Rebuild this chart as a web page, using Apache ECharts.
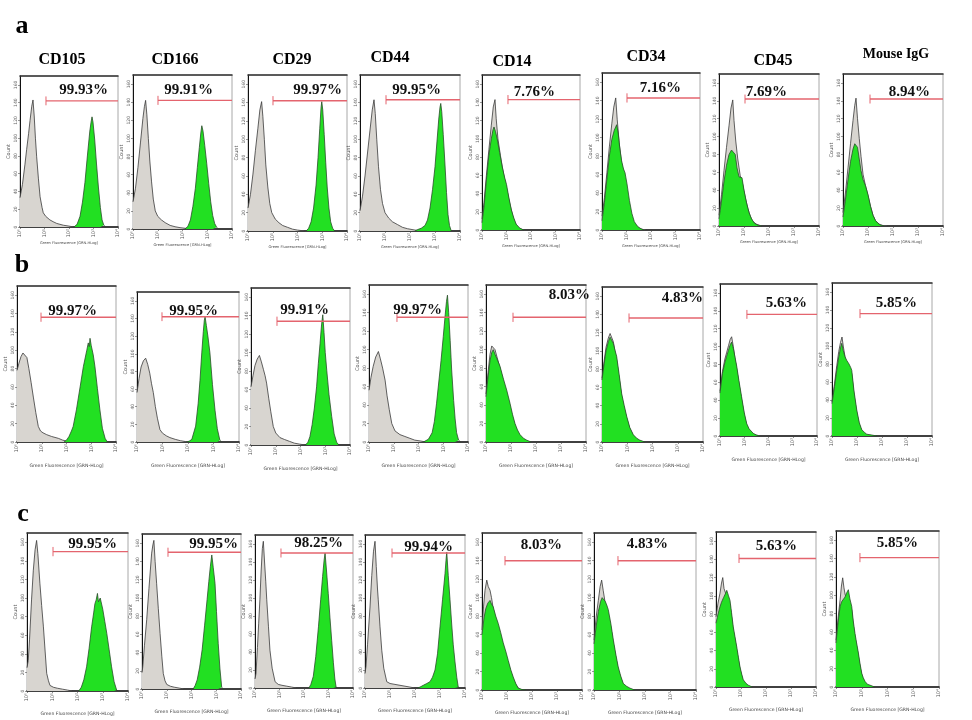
<!DOCTYPE html>
<html><head><meta charset="utf-8">
<script src="https://cdn.jsdelivr.net/npm/echarts@6/dist/echarts.min.js"></script>
<style>html,body{margin:0;padding:0;background:#fff}#c{width:972px;height:720px}</style>
</head><body><div id="c"></div><script>
// ---------- DATA ----------
const markers = ['CD105','CD166','CD29','CD44','CD14','CD34','CD45','Mouse IgG'];
const rowLetters = ['a','b','c'];
const xTickLabels = ['10⁰','10¹','10²','10³','10⁴'];
const xName = 'Green Fluorescence [GRN-HLog]';
const yName = 'Count';
const pctA = ['99.93%','99.91%','99.97%','99.95%','7.76%','7.16%','7.69%','8.94%'];
const pctB = ['99.97%','99.95%','99.91%','99.97%','8.03%','4.83%','5.63%','5.85%'];
const pctC = ['99.95%','99.95%','98.25%','99.94%','8.03%','4.83%','5.63%','5.85%'];
const gateStartA = [1.06,1.01,1.01,1.04,1.06,1.02,1.04,1.08];
const gateLevelA = [142,142,142,143,143,143,142,142];
const gateStartB = [0.97,0.98,1.05,1.13,1.08,1.07,1.11,1.12];
const gateLevelB = [136,142,134,135,135,136,136,136];
const gateStartC = [1.03,1.05,1.06,1.08,0.92,0.94,0.92,0.93];
const gateLevelC = [150,150,150,150,140,140,141,141];

// Row a
const ctrlA1 = [[0,33],[0.1,48],[0.2,70],[0.27,87],[0.35,105],[0.41,120],[0.48,136],[0.53,143],[0.58,125],[0.63,100],[0.68,79],[0.75,55],[0.82,34],[0.9,22],[0.95,16],[1.05,12],[1.22,8],[1.35,6],[1.5,4],[1.77,2],[2.0,1],[2.2,0]];
const stainA1 = [[2.2,0],[2.33,3],[2.45,12],[2.55,28],[2.65,50],[2.75,80],[2.85,108],[2.9,118],[2.94,124],[2.98,118],[3.05,98],[3.12,72],[3.2,45],[3.28,22],[3.35,8],[3.42,2],[3.5,0]];
const ctrlA2 = [[0,30],[0.1,45],[0.2,68],[0.3,95],[0.4,122],[0.46,135],[0.51,142],[0.56,126],[0.62,100],[0.68,75],[0.75,52],[0.82,33],[0.9,20],[1.0,14],[1.15,10],[1.3,7],[1.5,4],[1.7,2.5],[1.9,1.5],[2.2,0.5],[2.4,0]];
const stainA2 = [[2.1,0],[2.22,3],[2.32,10],[2.42,25],[2.52,45],[2.6,68],[2.68,90],[2.74,106],[2.78,114],[2.83,108],[2.9,92],[2.98,72],[3.06,50],[3.14,30],[3.22,15],[3.3,6],[3.38,2],[3.45,0]];
const ctrlA3 = [[0,25],[0.1,40],[0.2,62],[0.3,88],[0.4,112],[0.48,132],[0.55,141],[0.6,125],[0.66,100],[0.72,72],[0.8,48],[0.88,30],[0.96,20],[1.1,13],[1.25,9],[1.4,6],[1.6,4],[1.8,2],[2.0,1],[2.3,0]];
const stainA3 = [[2.35,0],[2.45,3],[2.55,10],[2.65,25],[2.75,50],[2.83,80],[2.9,112],[2.95,134],[2.98,141],[3.02,132],[3.08,105],[3.14,75],[3.2,48],[3.27,25],[3.34,10],[3.42,3],[3.5,0]];
const ctrlA4 = [[0,22],[0.1,38],[0.2,60],[0.3,85],[0.4,110],[0.49,132],[0.56,143],[0.61,128],[0.67,100],[0.74,70],[0.82,45],[0.9,30],[1.0,20],[1.15,14],[1.3,10],[1.5,7],[1.7,4],[1.9,2.5],[2.2,1],[2.5,0]];
const stainA4 = [[2.2,0],[2.3,1.5],[2.45,3],[2.6,6],[2.7,12],[2.8,25],[2.9,45],[3.0,70],[3.08,98],[3.15,122],[3.2,135],[3.23,139],[3.27,130],[3.33,105],[3.4,72],[3.46,42],[3.52,18],[3.58,6],[3.65,0]];
const ctrlA5 = [[0,12],[0.08,30],[0.18,60],[0.28,88],[0.38,115],[0.46,135],[0.53,143],[0.58,122],[0.65,100],[0.75,82],[0.85,66],[0.95,52],[1.05,40],[1.15,27],[1.25,16],[1.35,8],[1.5,2],[1.7,0]];
const stainA5 = [[0,8],[0.08,25],[0.18,55],[0.28,82],[0.38,100],[0.45,110],[0.49,113],[0.55,108],[0.62,100],[0.72,85],[0.82,70],[0.92,58],[1.0,50],[1.1,35],[1.2,22],[1.3,13],[1.4,6],[1.55,2],[1.7,0]];
const ctrlA6 = [[0,15],[0.1,35],[0.2,62],[0.3,90],[0.4,115],[0.48,133],[0.56,143],[0.62,120],[0.7,95],[0.8,72],[0.9,60],[1.0,44],[1.1,28],[1.2,15],[1.3,8],[1.45,3],[1.6,1],[1.8,0]];
const stainA6 = [[0,10],[0.1,30],[0.2,55],[0.3,80],[0.4,98],[0.5,108],[0.6,114],[0.66,105],[0.72,90],[0.8,75],[0.88,66],[0.94,62],[1.02,50],[1.12,32],[1.22,18],[1.32,9],[1.45,4],[1.55,2],[1.7,0]];
const ctrlA7 = [[0,12],[0.1,35],[0.2,62],[0.3,88],[0.4,112],[0.48,132],[0.55,141],[0.6,118],[0.67,95],[0.75,75],[0.85,56],[0.95,46],[1.05,32],[1.15,20],[1.25,11],[1.35,5],[1.5,2],[1.7,0]];
const stainA7 = [[0,8],[0.1,28],[0.2,50],[0.3,68],[0.4,80],[0.5,85],[0.57,86],[0.65,80],[0.72,65],[0.8,55],[0.87,57],[0.92,54],[1.0,40],[1.1,26],[1.2,15],[1.3,8],[1.42,3],[1.55,1],[1.7,0]];
const ctrlA8 = [[0,15],[0.1,38],[0.2,65],[0.3,92],[0.4,118],[0.47,135],[0.52,143],[0.58,120],[0.65,98],[0.72,78],[0.8,58],[0.9,45],[1.0,34],[1.1,22],[1.2,12],[1.3,6],[1.45,2],[1.6,0.5],[1.8,0]];
const stainA8 = [[0,10],[0.1,30],[0.2,52],[0.3,72],[0.4,86],[0.47,92],[0.52,94],[0.58,88],[0.65,75],[0.72,62],[0.8,52],[0.9,45],[1.0,35],[1.1,22],[1.2,12],[1.3,6],[1.4,3],[1.5,1],[1.65,0]];
// Row b
const ctrlB1 = [[0,78],[0.08,86],[0.16,93],[0.24,97],[0.32,98],[0.4,92],[0.48,80],[0.57,65],[0.66,49],[0.76,32],[0.86,17],[0.95,12],[1.05,10],[1.2,8],[1.4,6],[1.67,4],[1.85,2],[2.0,1],[2.2,0]];
const stainB1 = [[1.9,0],[2.0,2],[2.1,6],[2.2,12],[2.27,17],[2.4,35],[2.55,60],[2.68,82],[2.82,100],[2.88,108],[2.92,104],[2.95,113],[3.0,105],[3.08,95],[3.15,82],[3.25,58],[3.35,35],[3.45,15],[3.56,4],[3.65,0]];
const ctrlB2 = [[0,56],[0.08,72],[0.16,85],[0.25,92],[0.34,95],[0.42,88],[0.5,78],[0.57,66],[0.64,56],[0.72,40],[0.8,27],[0.9,14],[1.0,10],[1.15,7],[1.29,5],[1.5,3],[1.7,1.5],[1.9,0.5],[2.1,0]];
const stainB2 = [[1.95,0],[2.05,1],[2.15,3],[2.21,5],[2.3,18],[2.4,44],[2.47,70],[2.54,101],[2.6,125],[2.64,138],[2.67,142],[2.72,132],[2.78,120],[2.86,101],[2.96,65],[3.06,36],[3.15,15],[3.25,2],[3.32,0]];
const ctrlB3 = [[0,63],[0.08,75],[0.16,86],[0.25,93],[0.34,97],[0.42,90],[0.5,82],[0.57,75],[0.63,67],[0.72,50],[0.8,36],[0.9,20],[1.0,13],[1.17,8],[1.35,6],[1.55,4],[1.75,2],[1.95,1],[2.2,0]];
const stainB3 = [[2.2,0],[2.3,3],[2.38,9],[2.47,22],[2.56,40],[2.65,63],[2.72,88],[2.79,110],[2.85,130],[2.9,141],[2.95,122],[3.0,100],[3.06,81],[3.15,55],[3.26,31],[3.36,12],[3.46,3],[3.55,0]];
const ctrlB4 = [[0,56],[0.08,70],[0.17,82],[0.27,92],[0.38,98],[0.46,90],[0.55,80],[0.65,67],[0.73,50],[0.82,35],[0.92,20],[1.05,12],[1.25,8],[1.45,6],[1.65,4],[1.85,2],[2.1,1],[2.3,0]];
const stainB4 = [[2.2,0],[2.3,1.5],[2.4,3],[2.46,4],[2.55,10],[2.64,22],[2.73,42],[2.82,65],[2.91,88],[3.0,114],[3.08,138],[3.13,152],[3.17,159],[3.22,140],[3.28,110],[3.34,78],[3.42,45],[3.48,25],[3.54,10],[3.62,2],[3.7,0]];
const ctrlB5 = [[0,52],[0.08,75],[0.16,95],[0.23,104],[0.29,106],[0.36,100],[0.44,92],[0.56,80],[0.7,65],[0.83,52],[0.96,38],[1.06,27],[1.16,18],[1.26,11],[1.36,6],[1.5,3],[1.63,1],[1.8,0]];
const stainB5 = [[0,49],[0.08,70],[0.16,88],[0.23,97],[0.29,100],[0.36,95],[0.44,90],[0.56,82],[0.7,68],[0.83,56],[0.96,42],[1.06,30],[1.16,20],[1.26,13],[1.36,8],[1.5,4],[1.63,2],[1.8,0]];
const ctrlB6 = [[0,70],[0.08,88],[0.16,104],[0.25,114],[0.32,119],[0.38,121],[0.45,110],[0.52,98],[0.58,90],[0.68,70],[0.78,50],[0.88,37],[0.98,26],[1.1,15],[1.24,7],[1.38,3],[1.5,1],[1.7,0]];
const stainB6 = [[0,68],[0.08,85],[0.16,100],[0.25,110],[0.32,115],[0.38,117],[0.45,108],[0.52,100],[0.58,94],[0.68,74],[0.78,53],[0.88,40],[0.98,28],[1.1,16],[1.24,8],[1.38,4],[1.5,2],[1.7,0]];
const ctrlB7 = [[0,50],[0.1,72],[0.2,86],[0.27,93],[0.35,101],[0.42,108],[0.48,111],[0.55,100],[0.62,86],[0.69,75],[0.78,59],[0.89,41],[1.0,24],[1.1,12],[1.2,6],[1.37,2],[1.5,1],[1.65,0]];
const stainB7 = [[0,48],[0.1,70],[0.2,82],[0.27,89],[0.35,96],[0.42,102],[0.48,105],[0.55,98],[0.62,88],[0.69,78],[0.78,62],[0.89,44],[1.0,26],[1.1,14],[1.2,8],[1.37,3],[1.5,1],[1.65,0]];
const ctrlB8 = [[0,38],[0.1,58],[0.19,78],[0.27,94],[0.34,104],[0.4,110],[0.45,100],[0.52,88],[0.59,80],[0.68,76],[0.75,72],[0.79,69],[0.88,46],[0.99,26],[1.09,13],[1.19,6],[1.3,3],[1.39,1],[1.6,0.5],[1.8,0]];
const stainB8 = [[0,36],[0.1,55],[0.19,73],[0.27,88],[0.34,98],[0.39,103],[0.45,95],[0.52,88],[0.59,84],[0.68,80],[0.75,76],[0.79,73],[0.88,50],[0.99,29],[1.09,15],[1.19,7],[1.3,4],[1.39,2],[1.6,1],[1.8,0]];
// Row c
const ctrlC1 = [[0,25],[0.05,33],[0.1,55],[0.18,98],[0.25,130],[0.32,152],[0.38,162],[0.43,148],[0.48,128],[0.51,116],[0.58,92],[0.65,69],[0.72,42],[0.78,19],[0.85,11],[0.91,6],[1.05,4],[1.2,3],[1.4,2],[1.6,1],[1.8,0]];
const stainC1 = [[2.05,0],[2.15,4],[2.25,12],[2.36,26],[2.46,46],[2.56,69],[2.64,84],[2.69,94],[2.74,98],[2.79,105],[2.83,96],[2.86,94],[2.9,100],[2.95,98],[3.0,88],[3.08,75],[3.16,62],[3.25,45],[3.35,26],[3.45,10],[3.55,1],[3.6,0]];
const ctrlC2 = [[0,18],[0.03,24],[0.1,48],[0.19,76],[0.28,110],[0.39,149],[0.44,158],[0.48,163],[0.53,140],[0.59,116],[0.66,88],[0.73,61],[0.8,36],[0.86,17],[0.93,9],[1.0,5],[1.15,3],[1.3,2],[1.5,1],[1.7,0]];
const stainC2 = [[2.07,0],[2.15,4],[2.23,10],[2.33,24],[2.43,43],[2.53,70],[2.63,98],[2.7,118],[2.76,134],[2.82,147],[2.88,133],[2.95,116],[3.01,85],[3.08,50],[3.15,22],[3.22,2],[3.28,0]];
const ctrlC3 = [[0,10],[0.04,16],[0.1,45],[0.15,72],[0.2,98],[0.25,130],[0.3,155],[0.34,163],[0.39,140],[0.44,118],[0.48,98],[0.55,68],[0.61,42],[0.7,22],[0.82,7],[0.95,4],[1.1,3],[1.3,2],[1.5,1],[1.7,0]];
const stainC3 = [[2.2,0],[2.28,4],[2.38,13],[2.48,35],[2.59,68],[2.68,98],[2.76,124],[2.82,142],[2.86,150],[2.92,130],[2.99,105],[3.06,78],[3.13,53],[3.2,28],[3.26,10],[3.31,1],[3.36,0]];
const ctrlC4 = [[0,16],[0.04,24],[0.1,48],[0.2,90],[0.27,125],[0.34,152],[0.4,163],[0.45,135],[0.5,110],[0.53,98],[0.6,68],[0.67,42],[0.75,22],[0.87,7],[1.0,5],[1.2,4],[1.4,3],[1.6,2],[1.8,1],[2.0,0]];
const stainC4 = [[2.1,0],[2.2,1],[2.33,3],[2.47,5],[2.6,7],[2.7,12],[2.8,20],[2.9,38],[3.0,68],[3.1,98],[3.2,127],[3.24,142],[3.27,151],[3.33,125],[3.4,98],[3.47,70],[3.53,48],[3.6,29],[3.67,12],[3.73,1],[3.78,0]];
const ctrlC5 = [[0,65],[0.06,90],[0.12,108],[0.19,119],[0.25,112],[0.32,108],[0.38,100],[0.45,88],[0.55,76],[0.65,68],[0.75,58],[0.85,48],[0.95,38],[1.05,29],[1.15,20],[1.25,12],[1.35,6],[1.45,2],[1.6,0]];
const stainC5 = [[0,60],[0.08,78],[0.15,88],[0.23,94],[0.32,97],[0.38,93],[0.45,90],[0.55,80],[0.65,72],[0.75,62],[0.85,51],[0.95,42],[1.05,32],[1.15,22],[1.25,14],[1.35,7],[1.45,2],[1.6,0.5],[1.75,0]];
const ctrlC6 = [[0,54],[0.08,78],[0.17,97],[0.24,112],[0.3,119],[0.36,108],[0.44,94],[0.5,88],[0.56,82],[0.66,68],[0.76,50],[0.86,35],[0.95,22],[1.05,13],[1.15,6],[1.28,3],[1.41,1],[1.6,0]];
const stainC6 = [[0,50],[0.08,68],[0.17,85],[0.26,96],[0.32,100],[0.37,101],[0.44,96],[0.5,92],[0.56,87],[0.66,72],[0.76,54],[0.86,38],[0.95,25],[1.05,15],[1.15,7],[1.28,4],[1.41,2],[1.6,0]];
const ctrlC7 = [[0,77],[0.08,92],[0.16,103],[0.22,114],[0.27,120],[0.32,108],[0.37,104],[0.43,100],[0.5,95],[0.56,90],[0.62,78],[0.69,62],[0.76,52],[0.83,40],[0.9,29],[0.96,20],[1.03,12],[1.09,6],[1.2,3],[1.29,1],[1.45,0]];
const stainC7 = [[0,70],[0.08,80],[0.16,88],[0.22,93],[0.3,98],[0.37,102],[0.43,106],[0.5,100],[0.56,95],[0.62,82],[0.69,66],[0.76,55],[0.83,44],[0.9,32],[0.96,22],[1.03,14],[1.09,8],[1.2,4],[1.29,2],[1.45,0]];
const ctrlC8 = [[0,51],[0.08,75],[0.16,95],[0.21,110],[0.26,119],[0.31,108],[0.36,100],[0.42,98],[0.48,96],[0.54,90],[0.61,84],[0.67,68],[0.74,54],[0.8,45],[0.87,34],[0.93,23],[1.0,13],[1.06,8],[1.13,4],[1.22,2],[1.32,1],[1.5,0]];
const stainC8 = [[0,48],[0.08,70],[0.16,88],[0.22,93],[0.28,95],[0.35,98],[0.42,103],[0.48,106],[0.54,96],[0.61,88],[0.67,72],[0.74,58],[0.8,48],[0.87,37],[0.93,26],[1.0,15],[1.06,10],[1.13,6],[1.22,3],[1.32,2],[1.5,0]];

// ---------- LAYOUT (pixels) ----------
const boxesA = [[20,76,118,227],[133,75,232,229],[248,75,347,231],[360,75,460,231],[482,75,580,230],[602,73,700,230],[719,74,819,226],[843,74,943,226]];
const boxesB = [[17,286,116,442],[137,292,239,442],[251,288,350,445],[369,285,468,442],[486,285,586,442],[602,287,703,442],[720,284,817,436],[832,283,932,436]];
const boxesC = [[27,533,128,691],[142,534,241,689],[255,535,353,688],[365,535,465,688],[482,533,582,690],[594,533,696,690],[716,532,816,687],[836,531,939,687]];
const pctPosA = [[108,90],[213,90],[342,90],[441,90],[555,92],[681,88],[787,92],[930,92]];
const pctPosB = [[97,311],[218,311],[329,310],[442,310],[590,295],[703,298],[807,303],[917,303]];
const pctPosC = [[117,544],[238,544],[343,543],[453,547],[562,545],[668,544],[797,546],[918,543]];
const headerPos = [[62,60],[175,60],[292,60],[390,58],[512,62],[646,57],[773,61],[896,54]];
const letterPos = [[22,26],[22,265],[23,514]];

const rows = [
  {ctrl:[ctrlA1,ctrlA2,ctrlA3,ctrlA4,ctrlA5,ctrlA6,ctrlA7,ctrlA8], stain:[stainA1,stainA2,stainA3,stainA4,stainA5,stainA6,stainA7,stainA8],
   gs:gateStartA, gl:gateLevelA, pct:pctA, boxes:boxesA, pctPos:pctPosA, nameGap:10, nameSize:3.6},
  {ctrl:[ctrlB1,ctrlB2,ctrlB3,ctrlB4,ctrlB5,ctrlB6,ctrlB7,ctrlB8], stain:[stainB1,stainB2,stainB3,stainB4,stainB5,stainB6,stainB7,stainB8],
   gs:gateStartB, gl:gateLevelB, pct:pctB, boxes:boxesB, pctPos:pctPosB, nameGap:21, nameSize:4.6},
  {ctrl:[ctrlC1,ctrlC2,ctrlC3,ctrlC4,ctrlC5,ctrlC6,ctrlC7,ctrlC8], stain:[stainC1,stainC2,stainC3,stainC4,stainC5,stainC6,stainC7,stainC8],
   gs:gateStartC, gl:gateLevelC, pct:pctC, boxes:boxesC, pctPos:pctPosC, nameGap:20, nameSize:4.6}
];

// ---------- BUILD ----------
const chart = echarts.init(document.getElementById('c'), null, {renderer:'canvas'});
const grids=[], xAxes=[], yAxes=[], series=[], texts=[];
const XMAX = 4;
rows.forEach((row) => {
  row.ctrl.forEach((cdata, ci) => {
    const gi = grids.length;
    const [l,t,r,b] = row.boxes[ci];
    grids.push({left:l, top:t, width:r-l, height:b-t, show:true, borderColor:'#a8a8a8', borderWidth:1, backgroundColor:'#fff'});
    xAxes.push({gridIndex:gi, type:'value', min:0, max:XMAX, interval:1, position:'bottom',
      axisLine:{lineStyle:{color:'#111', width:1.6}}, axisTick:{length:2, lineStyle:{color:'#444', width:0.6}},
      splitLine:{show:false},
      axisLabel:{fontSize:5, rotate:90, margin:2, color:'#555', fontFamily:'DejaVu Sans', formatter:v=>xTickLabels[v]},
      name:xName, nameLocation:'middle', nameGap:row.nameGap, nameTextStyle:{fontSize:row.nameSize, color:'#444', fontFamily:'DejaVu Sans'}});
    xAxes.push({gridIndex:gi, type:'value', min:0, max:XMAX, position:'top',
      axisLine:{lineStyle:{color:'#333', width:1.6}}, axisTick:{show:false}, axisLabel:{show:false}, splitLine:{show:false}});
    yAxes.push({gridIndex:gi, type:'value', min:0, max:170, interval:20,
      axisLine:{show:true, lineStyle:{color:'#111', width:1}}, axisTick:{show:true, length:2, lineStyle:{color:'#555', width:0.6}},
      splitLine:{show:false},
      axisLabel:{fontSize:4.5, rotate:90, margin:2, color:'#666', showMaxLabel:false, fontFamily:'DejaVu Sans'},
      name:yName, nameLocation:'middle', nameGap:9, nameRotate:90, nameTextStyle:{fontSize:5, color:'#555', fontFamily:'DejaVu Sans'}});
    series.push({type:'line', xAxisIndex:2*gi, yAxisIndex:gi, data:cdata, symbol:'none', silent:true,
      lineStyle:{color:'#3a3a3a', width:0.8}, areaStyle:{color:'#d8d5d0', opacity:1}, z:2});
    series.push({type:'line', xAxisIndex:2*gi, yAxisIndex:gi, data:row.stain[ci], symbol:'none', silent:true,
      lineStyle:{color:'#2b4d2b', width:0.8}, areaStyle:{color:'#22e022', opacity:1}, z:3});
    const gs = row.gs[ci], gl = row.gl[ci];
    series.push({type:'line', xAxisIndex:2*gi, yAxisIndex:gi, data:[[gs,gl],[XMAX,gl]], symbol:'none', silent:true,
      lineStyle:{color:'#e4646e', width:1.4}, z:4});
    series.push({type:'line', xAxisIndex:2*gi, yAxisIndex:gi, data:[[gs,gl-5],[gs,gl+5]], symbol:'none', silent:true,
      lineStyle:{color:'#e4646e', width:1}, z:4});
    const [px,py] = row.pctPos[ci];
    texts.push({type:'text', x:px, y:py, z:10, style:{text:row.pct[ci], align:'right', verticalAlign:'middle',
      font:'bold 15px "Liberation Serif", "Times New Roman", serif', fill:'#111'}});
  });
});
markers.forEach((m, i) => {
  const [hx,hy] = headerPos[i];
  texts.push({type:'text', x:hx, y:hy, z:10, style:{text:m, align:'center', verticalAlign:'middle',
    font:(i===7?'bold 14px':'bold 16px') + ' "Liberation Serif", "Times New Roman", serif', fill:'#000'}});
});
rowLetters.forEach((s, i) => {
  const [lx,ly] = letterPos[i];
  texts.push({type:'text', x:lx, y:ly, z:10, style:{text:s, align:'center', verticalAlign:'middle',
    font:'bold 26px "Liberation Serif", "Times New Roman", serif', fill:'#000'}});
});

chart.setOption({
  animation:false,
  backgroundColor:'#fff',
  grid:grids, xAxis:xAxes, yAxis:yAxes, series:series,
  graphic:{elements:texts}
});
</script></body></html>
